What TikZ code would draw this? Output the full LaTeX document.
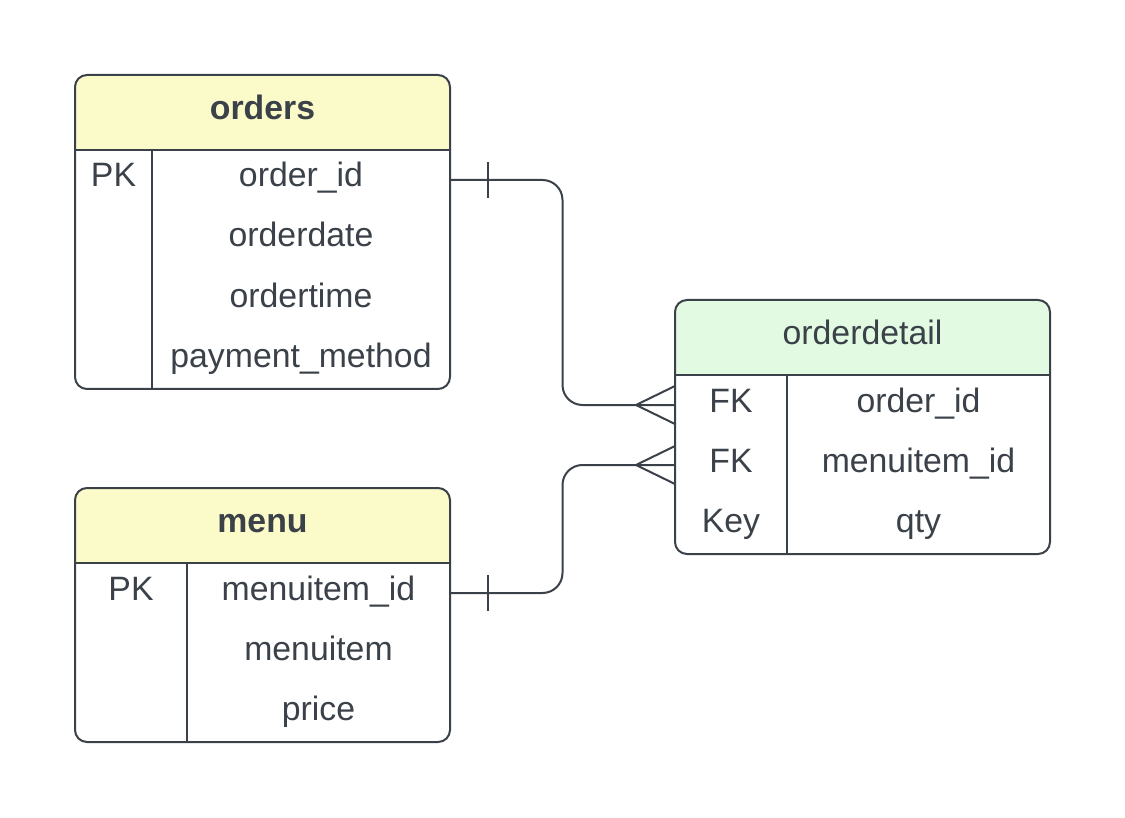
\documentclass[tikz,border=0pt]{standalone}
\usepackage{fontspec}
\setmainfont{Liberation Sans}
\usetikzlibrary{fit,calc}
\definecolor{ink}{HTML}{3B4149}
\definecolor{hdryellow}{HTML}{FBFBC9}
\definecolor{hdrgreen}{HTML}{E1FAE1}
\tikzset{
  tbl/.style={inner sep=0pt, outer sep=0pt},
  frame/.style={draw=ink, line width=1pt, rounded corners=6pt},
  rule/.style={draw=ink, line width=1pt},
  coldiv/.style={draw=ink, line width=0.7pt},
  cell/.style={inner sep=0pt, text=ink, text height=10pt, text depth=3pt, anchor=center},
  title/.style={cell, font=\fontsize{16.9}{20}\selectfont\bfseries},
  conn/.style={draw=ink, line width=1pt, rounded corners=10pt},
  tick/.style={draw=ink, line width=0.6pt},
}
\begin{document}
\begin{tikzpicture}[x=0.5pt,y=-0.5pt,font=\fontsize{16.9}{20}\selectfont]
\useasboundingbox (0,0) rectangle (1125,818);

% ---------- orders ----------
\node[tbl, fit={(75,75)(450,389)}] (orders) {};
\begin{scope}
  \clip[rounded corners=6pt] (orders.north west) rectangle (orders.south east);
  \fill[hdryellow] (orders.north west) rectangle (450,150);
\end{scope}
\draw[frame] (orders.north west) rectangle (orders.south east);
\draw[rule] (75,150) -- (450,150);
\draw[coldiv] (152,150) -- (152,389);
\node[title] (orders-t) at (262.5,112.5) {orders};
\node[cell] (orders-k1) at (113.5,180) {PK};
\node[cell] (orders-a1) at (301,180) {order\_id};
\node[cell] (orders-a2) at (301,240) {orderdate};
\node[cell] (orders-a3) at (301,300) {ordertime};
\node[cell] (orders-a4) at (301,360) {payment\_method};

% ---------- menu ----------
\node[tbl, fit={(75,488)(450,742)}] (menu) {};
\begin{scope}
  \clip[rounded corners=6pt] (menu.north west) rectangle (menu.south east);
  \fill[hdryellow] (menu.north west) rectangle (450,563);
\end{scope}
\draw[frame] (menu.north west) rectangle (menu.south east);
\draw[rule] (75,563) -- (450,563);
\draw[coldiv] (187,563) -- (187,742);
\node[title] (menu-t) at (262.5,525.5) {menu};
\node[cell] (menu-k1) at (131,593) {PK};
\node[cell] (menu-a1) at (318.5,593) {menuitem\_id};
\node[cell] (menu-a2) at (318.5,653) {menuitem};
\node[cell] (menu-a3) at (318.5,713) {price};

% ---------- orderdetail ----------
\node[tbl, fit={(675,300)(1050,554)}] (od) {};
\begin{scope}
  \clip[rounded corners=6pt] (od.north west) rectangle (od.south east);
  \fill[hdrgreen] (od.north west) rectangle (1050,375);
\end{scope}
\draw[frame] (od.north west) rectangle (od.south east);
\draw[rule] (675,375) -- (1050,375);
\draw[coldiv] (787,375) -- (787,554);
\node[cell] (od-t) at (862.5,337.5) {orderdetail};
\node[cell] (od-k1) at (731,405) {FK};
\node[cell] (od-a1) at (918.5,405) {order\_id};
\node[cell] (od-k2) at (731,465) {FK};
\node[cell] (od-a2) at (918.5,465) {menuitem\_id};
\node[cell] (od-k3) at (731,525) {Key};
\node[cell] (od-a3) at (918.5,525) {qty};

% ---------- connectors ----------
\coordinate (m1) at ($(orders.east)!0.5!(od.west)$);
\coordinate (m2) at ($(menu.east)!0.5!(od.west)$);

\draw[conn] (orders.east |- orders-a1) -| (m1) |- (od.west |- od-k1);
\draw[tick] ($(orders.east |- orders-a1)+(38,-18)$) -- ++(0,36);
\draw[conn] ($(od.west |- od-k1)+(-39,0)$) -- ++(39,-19);
\draw[conn] ($(od.west |- od-k1)+(-39,0)$) -- ++(39,19);

\draw[conn] (menu.east |- menu-a1) -| (m2) |- (od.west |- od-k2);
\draw[tick] ($(menu.east |- menu-a1)+(38,-18)$) -- ++(0,36);
\draw[conn] ($(od.west |- od-k2)+(-39,0)$) -- ++(39,-19);
\draw[conn] ($(od.west |- od-k2)+(-39,0)$) -- ++(39,19);
\end{tikzpicture}
\end{document}
